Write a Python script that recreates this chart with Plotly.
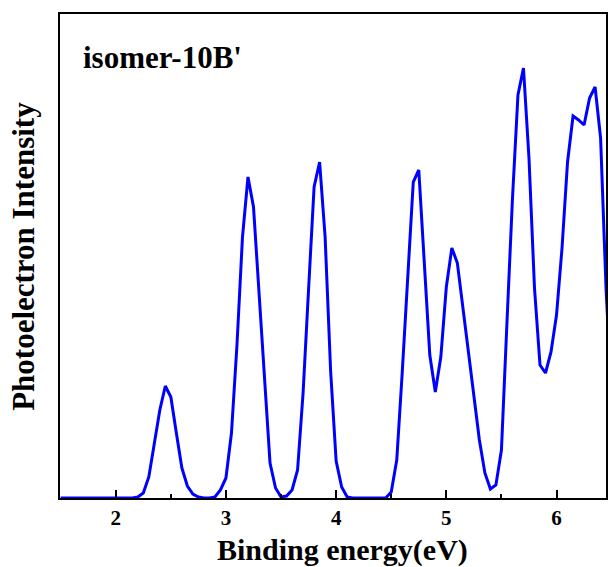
import plotly.graph_objects as go

energy = [1.5, 1.55, 1.6, 1.65, 1.7, 1.75, 1.8, 1.85, 1.9, 1.95, 2.0, 2.05, 2.1, 2.15,
          2.2, 2.25, 2.3, 2.35, 2.4, 2.45, 2.5, 2.55, 2.6, 2.65, 2.7, 2.75, 2.8, 2.85,
          2.9, 2.95, 3.0, 3.05, 3.1, 3.15, 3.2, 3.25, 3.3, 3.35, 3.4, 3.45, 3.5, 3.55,
          3.6, 3.65, 3.7, 3.75, 3.8, 3.85, 3.9, 3.95, 4.0, 4.05, 4.1, 4.15, 4.2, 4.25,
          4.3, 4.35, 4.4, 4.45, 4.5, 4.55, 4.6, 4.65, 4.7, 4.75, 4.8, 4.85, 4.9, 4.95,
          5.0, 5.05, 5.1, 5.15, 5.2, 5.25, 5.3, 5.35, 5.4, 5.45, 5.5, 5.55, 5.6, 5.65,
          5.7, 5.75, 5.8, 5.85, 5.9, 5.95, 6.0, 6.05, 6.1, 6.15, 6.2, 6.25, 6.3, 6.35,
          6.4, 6.45, 6.5]
intensity = [0, 0, 0, 0, 0, 0, 0, 0, 0, 0, 0, 0, 0, 0,
             1, 5, 21, 55, 88, 112, 101, 65, 30, 12, 4, 1, 0, 0,
             1, 8, 20, 65, 153, 261, 321, 291, 206, 115, 35, 10, 1, 2,
             8, 28, 105, 209, 311, 336, 261, 127, 37, 11, 1, 0, 0, 0,
             0, 0, 0, 0, 6, 38, 126, 221, 316, 328, 241, 143, 106, 141,
             211, 250, 235, 191, 148, 105, 58, 25, 9, 13, 48, 175, 299, 403,
             430, 340, 210, 133, 125, 146, 183, 250, 336, 382, 378, 373, 400, 411,
             360, 208, 100]

x_ticks = [2, 3, 4, 5, 6]
x_ticklabels = ["2", "3", "4", "5", "6"]

FONT = "Liberation Serif"

fig = go.Figure()
fig.add_trace(go.Scatter(x=energy, y=intensity, mode="lines",
                         line=dict(color="#0000ff", width=3), showlegend=False,
                         hoverinfo="skip"))

fig.update_layout(
    width=608, height=567,
    margin=dict(l=60, r=0, t=14, b=69),
    paper_bgcolor="white", plot_bgcolor="white",
    font=dict(family=FONT, color="black"),
    xaxis=dict(range=[1.494, 6.449], showgrid=False, zeroline=False,
               showline=True, linecolor="black", linewidth=2, mirror=True,
               ticks="inside", ticklen=8, tickwidth=2, tickcolor="black",
               tickvals=x_ticks, ticktext=x_ticklabels,
               tickfont=dict(family=FONT, size=21, color="black", weight="bold"),
               minor=dict(ticks="inside", ticklen=4, tickwidth=2, tickcolor="black",
                          tickvals=[2.5, 3.5, 4.5, 5.5])),
    yaxis=dict(range=[0, 484], showgrid=False, zeroline=False,
               showline=True, linecolor="black", linewidth=2, mirror=True,
               showticklabels=False, ticks=""),
    annotations=[
        dict(text="<b>Binding energy(eV)</b>", xref="paper", yref="paper",
             x=0.517, y=-0.107, xanchor="center", yanchor="middle", showarrow=False,
             font=dict(family=FONT, size=30, color="black")),
        dict(text="<b>Photoelectron Intensity</b>", xref="paper", yref="paper",
             x=-0.068, y=0.5, xanchor="center", yanchor="middle", showarrow=False,
             textangle=-90, font=dict(family=FONT, size=31, color="black")),
        dict(text="<b>isomer-10B'</b>", xref="paper", yref="paper",
             x=0.038, y=0.911, xanchor="left", yanchor="middle", showarrow=False,
             font=dict(family=FONT, size=31, color="black")),
    ],
)

fig.write_html("out.html", config={"displayModeBar": False},
               post_script="document.body.style.margin='0';document.body.style.overflow='hidden';")
